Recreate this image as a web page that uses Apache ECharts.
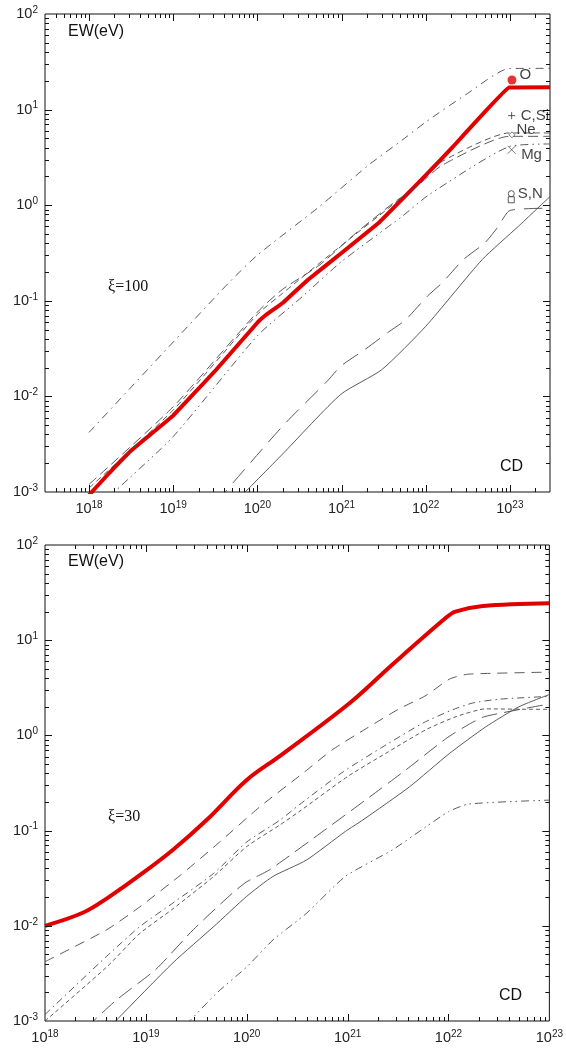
<!DOCTYPE html>
<html><head><meta charset="utf-8">
<script src="https://cdn.jsdelivr.net/npm/echarts@6/dist/echarts.min.js"></script>
<style>html,body{margin:0;padding:0;background:#fff}#c{width:566px;height:1053px}</style>
</head><body><div id="c"></div>
<script>
// ---------- DATA (column density CD [cm^-2], equivalent width EW [eV]) ----------
// Top panel, xi = 100
const top_O  = [[1e18,9.3e-4],[1.74e18,1.58e-3],[3.27e18,2.78e-3],[1e19,6.3e-3],[3.24e19,0.019],[1e20,0.059],[1.26e20,0.071],[2e20,0.095],[4e20,0.166],[1e21,0.316],[2.8e21,0.66],[5.9e21,1.28],[1.1e22,2.24],[2.1e22,4.07],[9.8e22,17.0],[3e23,17.1]];
const top_C  = [[1e18,4.2e-3],[1e19,0.037],[4.6e19,0.155],[1e20,0.30],[5.4e20,0.96],[2.1e21,2.63],[5.6e21,5.0],[1e22,7.4],[3.16e22,14.8],[9.8e22,26.9],[3e23,27.0]];
const top_Ne = [[1e18,1.2e-3],[1e19,7.8e-3],[1e20,0.076],[2e20,0.132],[5.4e20,0.234],[1.48e21,0.51],[4.1e21,1.05],[7.9e21,1.58],[1.58e22,2.63],[9.8e22,5.25],[3e23,5.25]];
const top_Si = [[1e18,1.1e-3],[1e19,7.2e-3],[1e20,0.072],[2e20,0.12],[1e21,0.38],[4e21,1.0],[7.9e21,1.62],[1.58e22,2.88],[9.8e22,5.7],[3e23,5.7]];
const top_Mg = [[1e18,5.5e-4],[2e18,1e-3],[1e19,3.8e-3],[1e20,0.043],[3.4e20,0.11],[1e21,0.257],[5.2e21,0.76],[1.1e22,1.29],[9.8e22,4.1],[3e23,4.37]];
const top_S  = [[3.16e19,7.6e-4],[2e20,4.9e-3],[6.8e20,0.0145],[9.8e20,0.0207],[1.9e21,0.031],[3.6e21,0.047],[5.75e21,0.063],[1.05e22,0.112],[1.58e22,0.155],[2.8e22,0.27],[5e22,0.40],[7.1e22,0.58],[1e23,0.88],[3e23,0.93]];
const top_N  = [[6.3e19,8.9e-4],[2e20,2.5e-3],[9.8e20,0.0105],[3e21,0.019],[1e22,0.054],[4.7e22,0.27],[1.26e23,0.60],[3e23,1.23]];
// markers + labels at the right of the top panel
const markerCD   = [1.06e23, 1.05e23, 1.06e23, 1.05e23, 1.04e23, 1.04e23];
const markerEW   = [20.4, 8.65, 5.45, 3.8, 1.32, 1.14];
const markerText = ['O', 'C,Si', 'Ne', 'Mg', 'S,N', ''];
// Bottom panel, xi = 30
const bot_O   = [[1e18,0.0100],[2.4e18,0.0138],[4.4e18,0.0204],[8.7e18,0.034],[1.86e19,0.063],[4e19,0.129],[1e20,0.34],[2.14e20,0.61],[1.05e21,2.19],[2.8e21,5.6],[9.3e21,17.0],[1.17e22,20.0],[2.2e22,22.9],[1e23,24.5]];
const bot_d1  = [[1e18,4.2e-3],[4.1e18,9.1e-3],[8.7e18,0.0158],[2.2e19,0.034],[5.4e19,0.076],[1.35e20,0.178],[3.6e20,0.40],[7.1e20,0.71],[1.55e21,1.19],[3.24e21,1.9],[6e21,2.63],[1.02e22,3.9],[1.5e22,4.37],[2.3e22,4.47],[1e23,4.62]];
const bot_dd  = [[1e18,1.17e-3],[4.1e18,4.8e-3],[8.7e18,9.8e-3],[1.86e19,0.0174],[4.7e19,0.0355],[1e20,0.076],[2.14e20,0.129],[3.3e20,0.186],[9.1e20,0.417],[2.24e21,0.76],[5.6e21,1.35],[1.1e22,1.86],[1.74e22,2.19],[3.16e22,2.4],[1e23,2.57]];
const bot_sd  = [[1e18,1.0e-3],[4.1e18,3.7e-3],[8.7e18,8.3e-3],[1.86e19,0.0151],[4.7e19,0.033],[1e20,0.068],[2.14e20,0.115],[3.3e20,0.158],[1e21,0.37],[2.4e21,0.65],[6e21,1.15],[1.2e22,1.58],[2.34e22,1.9],[6.8e22,1.88],[1e23,1.88]];
const bot_ld  = [[2.5e18,8.3e-4],[5.1e18,1.66e-3],[1.26e19,3.5e-3],[2.95e19,9.1e-3],[7.2e19,0.022],[1e20,0.029],[1.7e20,0.039],[6.2e20,0.105],[1.5e21,0.209],[3.8e21,0.436],[9.5e21,0.93],[1.62e22,1.32],[2.3e22,1.58],[1e23,2.14]];
const bot_sol = [[4e18,7.9e-4],[5.1e18,1.02e-3],[1.86e19,4.1e-3],[4.7e19,9.8e-3],[1e20,0.0204],[1.82e20,0.033],[3.9e20,0.049],[9.5e20,0.098],[1.41e21,0.129],[4.1e21,0.288],[1.02e22,0.645],[2.34e22,1.23],[5e22,2.0],[1e23,2.69]];
const bot_ddd = [[2.5e19,9.1e-4],[5e19,1.95e-3],[1e20,3.7e-3],[1.82e20,7.1e-3],[3.9e20,0.0135],[9.5e20,0.033],[2.8e21,0.063],[6e21,0.11],[1e22,0.158],[1.58e22,0.19],[1e23,0.209]];
// axis limits
const topX = [3e17, 3e23];
const botX = [1e18, 1e23];
const yLim = [1e-3, 1e2];

// ---------- RENDERING ----------
const SANS = '"Liberation Sans", Arial, Helvetica, sans-serif';
const SERIF = '"Liberation Serif", "Times New Roman", serif';
const GRAY = '#474747';
const RED = '#e10000';
const grids = [
  {left: 45, top: 14, width: 505, height: 478},
  {left: 45, top: 545, width: 505, height: 476}
];

function expLabel(v) {
  const e = Math.log10(v), r = Math.round(e);
  if (Math.abs(e - r) > 1e-6) return '';
  return '{b|10}{s|' + r + '}';
}
const rich = {
  b: {fontSize: 14.5, fontFamily: SANS, color: '#222', lineHeight: 18},
  s: {fontSize: 10, fontFamily: SANS, color: '#222', lineHeight: 10, verticalAlign: 'top'}
};
function xAxis(i, lim) {
  return {type: 'log', logBase: 10, gridIndex: i, min: lim[0], max: lim[1],
    axisLine: {show: false}, axisTick: {show: false}, splitLine: {show: false}, minorTick: {show: false},
    axisLabel: {formatter: expLabel, rich, margin: 8, interval: 0, showMinLabel: true, showMaxLabel: true, hideOverlap: false}};
}
function yAxis(i) {
  return {type: 'log', logBase: 10, gridIndex: i, min: yLim[0], max: yLim[1],
    axisLine: {show: false}, axisTick: {show: false}, splitLine: {show: false}, minorTick: {show: false},
    axisLabel: {formatter: expLabel, rich, margin: 7, interval: 0, showMinLabel: true, showMaxLabel: true, hideOverlap: false}};
}
function decadeTicks(lo, hi) {
  const out = [];
  for (let e = Math.floor(Math.log10(lo)) - 1; e <= Math.ceil(Math.log10(hi)); e++) {
    for (let m = 1; m <= 9; m++) {
      const v = m * Math.pow(10, e);
      if (v >= lo * 1.0001 && v <= hi * 0.9999) out.push([v, m === 1 ? 1 : 0]);
    }
  }
  return out;
}
function tickSeries(g, xr, yr) {
  const xt = decadeTicks(xr[0], xr[1]), yt = decadeTicks(yr[0], yr[1]);
  const data = xt.map(t => [t[0], yr[0], 0, t[1]]).concat(yt.map(t => [xr[0], t[0], 1, t[1]]));
  return {
    type: 'custom', xAxisIndex: g, yAxisIndex: g, silent: true, z: 6, clip: false, animation: false,
    data,
    renderItem(params, api) {
      const kind = api.value(2), L = api.value(3) ? 7 : 4;
      const st = {stroke: '#111', lineWidth: 1};
      if (kind === 0) {
        const x = api.value(0);
        const a = api.coord([x, yr[0]]), b = api.coord([x, yr[1]]);
        const px = Math.round(a[0]) + 0.5;
        return {type: 'group', children: [
          {type: 'line', shape: {x1: px, y1: a[1], x2: px, y2: a[1] - L}, style: st},
          {type: 'line', shape: {x1: px, y1: b[1], x2: px, y2: b[1] + L}, style: st}]};
      } else {
        const y = api.value(1);
        const a = api.coord([xr[0], y]), b = api.coord([xr[1], y]);
        const py = Math.round(a[1]) + 0.5;
        return {type: 'group', children: [
          {type: 'line', shape: {x1: a[0], y1: py, x2: a[0] + L, y2: py}, style: st},
          {type: 'line', shape: {x1: b[0], y1: py, x2: b[0] - L, y2: py}, style: st}]};
      }
    }
  };
}
function line(name, data, g, color, width, type, z, smooth) {
  return {type: 'line', name, xAxisIndex: g, yAxisIndex: g, data, showSymbol: false, symbol: 'none',
    silent: true, animation: false, z: z || 3, clip: true, smooth: smooth === undefined ? 0.2 : smooth,
    lineStyle: {color, width, type}};
}

const markerStyles = [
  {symbol: 'circle', symbolSize: 9, itemStyle: {color: RED}, label: {offset: [0, -5]}},
  {symbol: 'path://M0,5L10,5M5,0L5,10', symbolSize: 7, itemStyle: {color: 'none', borderColor: '#333', borderWidth: 1}, label: {offset: [0, 0]}},
  {symbol: 'diamond', symbolSize: 6, itemStyle: {color: '#fff', borderColor: '#555', borderWidth: 1}, label: {offset: [-2, -5]}},
  {symbol: 'path://M0,0L10,10M10,0L0,10', symbolSize: 8, itemStyle: {color: 'none', borderColor: '#555', borderWidth: 1}, label: {offset: [0, 5]}},
  {symbol: 'circle', symbolSize: 6, itemStyle: {color: '#fff', borderColor: '#333', borderWidth: 1}, label: {offset: [0, 0]}},
  {symbol: 'rect', symbolSize: 6, itemStyle: {color: '#fff', borderColor: '#333', borderWidth: 1}, label: {offset: [0, 0]}}
];
const markerData = markerCD.map((cd, i) => Object.assign({value: [cd, markerEW[i]], name: markerText[i]}, markerStyles[i]));

const chart = echarts.init(document.getElementById('c'), null, {renderer: 'canvas'});
chart.setOption({
  backgroundColor: '#fff',
  animation: false,
  grid: grids.map(g => Object.assign({show: true, borderColor: '#111', borderWidth: 1, backgroundColor: 'transparent'}, g)),
  xAxis: [xAxis(0, topX), xAxis(1, botX)],
  yAxis: [yAxis(0), yAxis(1)],
  series: [
    line('O', top_O, 0, RED, 4, 'solid', 2, 0.05),
    line('C', top_C, 0, GRAY, 0.9, [8, 5, 1.5, 5]),
    line('Ne', top_Ne, 0, GRAY, 0.9, [10, 5]),
    line('Si', top_Si, 0, GRAY, 0.9, [6, 4]),
    line('Mg', top_Mg, 0, GRAY, 0.9, [8, 4, 1.5, 4, 1.5, 4]),
    line('S', top_S, 0, GRAY, 0.9, [18, 9]),
    line('N', top_N, 0, GRAY, 0.9, 'solid'),
    {type: 'scatter', xAxisIndex: 0, yAxisIndex: 0, silent: true, animation: false, z: 7,
      data: markerData,
      label: {show: true, position: 'right', distance: 3, formatter: p => p.name,
        fontSize: 15, fontFamily: SANS, color: '#111'}},
    line('O', bot_O, 1, RED, 4, 'solid', 2, 0.35),
    line('d1', bot_d1, 1, GRAY, 0.9, [10, 7]),
    line('dd', bot_dd, 1, GRAY, 0.9, [7, 4, 1.5, 4]),
    line('sd', bot_sd, 1, GRAY, 0.9, [4, 3]),
    line('ld', bot_ld, 1, GRAY, 0.9, [16, 7]),
    line('sol', bot_sol, 1, GRAY, 0.9, 'solid'),
    line('ddd', bot_ddd, 1, GRAY, 0.9, [8, 4, 1.5, 4, 1.5, 4]),
    tickSeries(0, topX, yLim),
    tickSeries(1, botX, yLim)
  ],
  graphic: [
    {type: 'text', x: 68, y: 32, style: {text: 'EW(eV)', fontSize: 16, fontFamily: SANS, fill: '#111', verticalAlign: 'middle'}},
    {type: 'text', x: 108, y: 287, style: {text: 'ξ=100', fontSize: 16, fontFamily: SERIF, fill: '#111', verticalAlign: 'middle'}},
    {type: 'text', x: 500, y: 467, style: {text: 'CD', fontSize: 16, fontFamily: SANS, fill: '#111', verticalAlign: 'middle'}},
    {type: 'text', x: 68, y: 562, style: {text: 'EW(eV)', fontSize: 16, fontFamily: SANS, fill: '#111', verticalAlign: 'middle'}},
    {type: 'text', x: 108, y: 817, style: {text: 'ξ=30', fontSize: 16, fontFamily: SERIF, fill: '#111', verticalAlign: 'middle'}},
    {type: 'text', x: 499, y: 996, style: {text: 'CD', fontSize: 16, fontFamily: SANS, fill: '#111', verticalAlign: 'middle'}}
  ]
});
</script></body></html>
